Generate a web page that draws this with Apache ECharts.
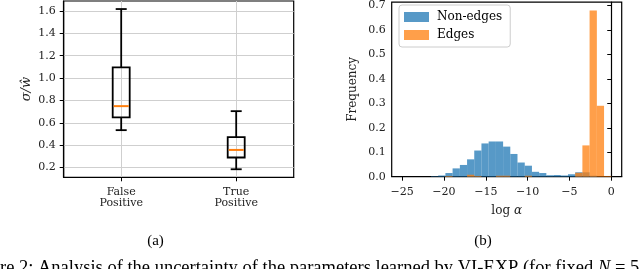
<!DOCTYPE html>
<html>
<head>
<meta charset="utf-8">
<script src="https://cdn.jsdelivr.net/npm/echarts@6/dist/echarts.min.js"></script>
<style>
html,body{margin:0;padding:0;background:#fff;}
#c{width:640px;height:269px;}
</style>
</head>
<body>
<div id="c"></div>
<script>
// ---- Panel (a): box plot ----
const boxCategories = ['False\nPositive', 'True\nPositive'];
const whiskerLow  = [0.534, 0.184];
const q1          = [0.648, 0.289];
const median      = [0.749, 0.357];
const q3          = [1.096, 0.471];
const whiskerHigh = [1.618, 0.704];
const boxYTicks = [0.2, 0.4, 0.6, 0.8, 1.0, 1.2, 1.4, 1.6];

// ---- Panel (b): histograms of log alpha ----
const binEdges = [-25.00, -24.14, -23.28, -22.41, -21.55, -20.69, -19.83, -18.97, -18.10, -17.24,
                  -16.38, -15.52, -14.66, -13.79, -12.93, -12.07, -11.21, -10.34, -9.48, -8.62,
                  -7.76, -6.90, -6.03, -5.17, -4.31, -3.45, -2.59, -1.72, -0.86, 0.00];
const nonEdgeFreq = [0, 0, 0, 0, 0.002, 0.005, 0.015, 0.034, 0.048, 0.071,
                     0.107, 0.136, 0.144, 0.144, 0.123, 0.093, 0.058, 0.045, 0.020, 0.015,
                     0.006, 0.007, 0.005, 0.010, 0.018, 0.018, 0.004, 0, 0];
const edgeFreq = [0, 0, 0, 0, 0, 0, 0.003, 0, 0, 0.008,
                  0.003, 0, 0, 0.004, 0.004, 0, 0, 0.004, 0, 0,
                  0, 0, 0, 0, 0.016, 0.128, 0.680, 0.290, 0.003];
const histXTicks = [-25, -20, -15, -10, -5, 0];
const histYTicks = [0.0, 0.1, 0.2, 0.3, 0.4, 0.5, 0.6, 0.7];
const legendNames = ['Non-edges', 'Edges'];

const SERIF = 'DejaVu Serif';
const BLUE = 'rgba(31,119,180,0.75)';
const ORANGE = 'rgba(255,127,14,0.75)';

const boxData = boxCategories.map((c, i) => [i + 1, whiskerLow[i], q1[i], median[i], q3[i], whiskerHigh[i]]);
const histData = arr => arr.map((h, i) => [binEdges[i], binEdges[i + 1], h]);

function renderBox(params, api) {
  const x = api.value(0);
  const lo = api.coord([x, api.value(1)]);
  const b1 = api.coord([x, api.value(2)]);
  const md = api.coord([x, api.value(3)]);
  const b3 = api.coord([x, api.value(4)]);
  const hi = api.coord([x, api.value(5)]);
  const bw = 17, cw = 11;
  const ls = {stroke: '#000', lineWidth: 1.8, fill: null};
  return {
    type: 'group',
    children: [
      {type: 'line', shape: {x1: lo[0], y1: lo[1], x2: b1[0], y2: b1[1]}, style: ls},
      {type: 'line', shape: {x1: b3[0], y1: b3[1], x2: hi[0], y2: hi[1]}, style: ls},
      {type: 'line', shape: {x1: lo[0] - cw / 2, y1: lo[1], x2: lo[0] + cw / 2, y2: lo[1]}, style: ls},
      {type: 'line', shape: {x1: hi[0] - cw / 2, y1: hi[1], x2: hi[0] + cw / 2, y2: hi[1]}, style: ls},
      {type: 'rect', shape: {x: b3[0] - bw / 2, y: b3[1], width: bw, height: b1[1] - b3[1]}, style: ls},
      {type: 'line', shape: {x1: md[0] - bw / 2 + 1, y1: md[1], x2: md[0] + bw / 2 - 1, y2: md[1]},
       style: {stroke: '#ff7f0e', lineWidth: 2}}
    ]
  };
}

function renderHist(params, api) {
  const p0 = api.coord([api.value(0), api.value(2)]);
  const p1 = api.coord([api.value(1), 0]);
  return {
    type: 'rect',
    shape: {x: p0[0], y: p0[1], width: p1[0] - p0[0], height: p1[1] - p0[1]},
    style: {fill: api.visual('color')}
  };
}

const tickLabel = {fontFamily: SERIF, fontSize: 11, color: '#222'};
const axisLineBlack = {show: true, lineStyle: {color: '#000', width: 1.2}};

const chart = echarts.init(document.getElementById('c'), null, {renderer: 'canvas'});
chart.setOption({
  animation: false,
  backgroundColor: '#fff',
  grid: [
    {left: 63.7, top: 1, width: 230, height: 176.3, show: true, borderColor: '#000', borderWidth: 1.2, backgroundColor: 'transparent'},
    {left: 391.7, top: 1, width: 230, height: 175.7, show: true, borderColor: '#000', borderWidth: 1.2, backgroundColor: 'transparent'}
  ],
  legend: {
    data: legendNames,
    orient: 'vertical',
    left: 399, top: 5,
    padding: [6, 8, 6, 5],
    itemGap: 6,
    itemWidth: 25, itemHeight: 10,
    icon: 'rect',
    backgroundColor: 'rgba(255,255,255,0.8)',
    borderColor: '#cccccc', borderWidth: 1, borderRadius: 3,
    textStyle: {fontFamily: SERIF, fontSize: 12, color: '#000', lineHeight: 12, padding: [0, 0, 0, 3]}
  },
  xAxis: [
    {
      type: 'value', gridIndex: 0, min: 0.5, max: 2.5,
      axisLine: axisLineBlack,
      axisTick: {show: true, length: 4, customValues: boxCategories.map((c, i) => i + 1), lineStyle: {color: '#000'}},
      axisLabel: {customValues: boxCategories.map((c, i) => i + 1), margin: 9,
                  formatter: v => boxCategories[Math.round(v) - 1] || '',
                  fontFamily: SERIF, fontSize: 11, color: '#222', lineHeight: 11.5},
      splitLine: {show: true, lineStyle: {color: '#cfcfcf', width: 1}}
    },
    {
      type: 'value', gridIndex: 1, min: -26.25, max: 1.25,
      name: '{a|log }{b|α}', nameLocation: 'middle', nameGap: 28,
      nameTextStyle: {rich: {a: {fontFamily: SERIF, fontSize: 12, color: '#222'},
                             b: {fontFamily: SERIF, fontSize: 12, fontStyle: 'italic', color: '#222'}}},
      axisLine: axisLineBlack,
      axisTick: {show: true, length: 4, customValues: histXTicks, lineStyle: {color: '#000'}},
      axisLabel: Object.assign({customValues: histXTicks, margin: 10,
                  formatter: v => String(v).replace('-', '\u2212')}, tickLabel),
      splitLine: {show: false}
    }
  ],
  yAxis: [
    {
      type: 'value', gridIndex: 0, min: 0.112, max: 1.69,
      name: 'σ/ŵ', nameLocation: 'middle', nameGap: 31,
      nameTextStyle: {fontFamily: SERIF, fontSize: 13, fontStyle: 'italic', color: '#222'},
      axisLine: axisLineBlack,
      axisTick: {show: true, length: 4, customValues: boxYTicks, lineStyle: {color: '#000'}},
      axisLabel: Object.assign({customValues: boxYTicks, margin: 8, formatter: v => v.toFixed(1)}, tickLabel),
      splitLine: {show: true, lineStyle: {color: '#cfcfcf', width: 1}}
    },
    {
      type: 'value', gridIndex: 1, min: 0, max: 0.714,
      name: 'Frequency', nameLocation: 'middle', nameGap: 33,
      nameTextStyle: {fontFamily: SERIF, fontSize: 12, color: '#222'},
      axisLine: axisLineBlack,
      axisTick: {show: true, length: 4, customValues: histYTicks, lineStyle: {color: '#000'}},
      axisLabel: Object.assign({customValues: histYTicks, margin: 6, formatter: v => v.toFixed(1)}, tickLabel),
      splitLine: {show: false}
    }
  ],
  series: [
    {type: 'custom', name: 'box', xAxisIndex: 0, yAxisIndex: 0, renderItem: renderBox,
     encode: {x: 0, y: [1, 2, 3, 4, 5]}, data: boxData, z: 5},
    {type: 'custom', name: legendNames[0], xAxisIndex: 1, yAxisIndex: 1, renderItem: renderHist,
     itemStyle: {color: BLUE}, encode: {x: [0, 1], y: 2}, data: histData(nonEdgeFreq), z: 2},
    {type: 'custom', name: legendNames[1], xAxisIndex: 1, yAxisIndex: 1, renderItem: renderHist,
     itemStyle: {color: ORANGE}, encode: {x: [0, 1], y: 2}, data: histData(edgeFreq), z: 3}
  ],
  graphic: [
    {type: 'text', x: 155.5, y: 241, style: {text: '(a)', font: '15px "Liberation Serif"', fill: '#000', textAlign: 'center', textVerticalAlign: 'middle'}},
    {type: 'text', x: 483, y: 241, style: {text: '(b)', font: '15px "Liberation Serif"', fill: '#000', textAlign: 'center', textVerticalAlign: 'middle'}},
    {type: 'text', x: 0, y: 258.5, style: {
      text: '{r|re 2: Analysis of the uncertainty of the parameters learned by VI-EXP (for fixed }{i|N}{r| = 5}',
      rich: {r: {fontFamily: 'Liberation Serif', fontSize: 18.5, fill: '#000'},
             i: {fontFamily: 'Liberation Serif', fontSize: 18.5, fontStyle: 'italic', fill: '#000'}},
      textVerticalAlign: 'top'}}
  ]
});
</script>
</body>
</html>
